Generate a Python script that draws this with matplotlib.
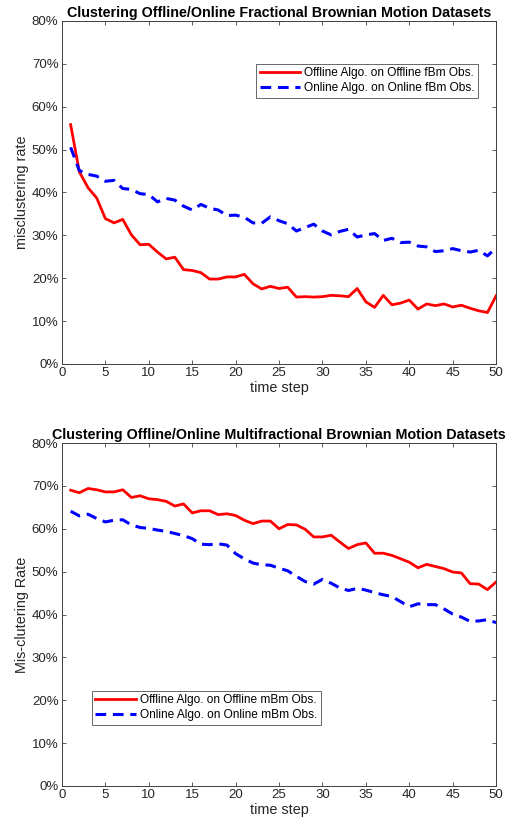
import matplotlib
matplotlib.use("Agg")
import matplotlib.pyplot as plt
from matplotlib.ticker import FuncFormatter

plt.rcParams['font.family'] = ['Liberation Sans', 'DejaVu Sans']

steps = list(range(1, 51))

# fBm datasets (misclustering rate, %)
fbm_offline = [55.8, 44.8, 41.1, 38.7, 33.9, 32.9, 33.7, 30.1, 27.8, 27.9,
               26.1, 24.5, 24.9, 22.0, 21.8, 21.3, 19.8, 19.8, 20.3, 20.3,
               20.9, 18.7, 17.5, 18.1, 17.6, 17.9, 15.6, 15.7, 15.6, 15.7,
               16.0, 15.9, 15.7, 17.6, 14.5, 13.2, 16.0, 13.8, 14.2, 14.9,
               12.8, 14.0, 13.6, 14.0, 13.3, 13.7, 13.0, 12.4, 12.0, 15.9]
fbm_online = [50.5, 45.1, 44.2, 43.8, 42.6, 42.8, 40.9, 40.7, 39.7, 39.5,
              37.8, 38.6, 38.2, 36.8, 35.9, 37.2, 36.3, 35.9, 34.6, 34.7,
              34.2, 32.9, 32.8, 34.3, 33.4, 32.7, 31.0, 31.8, 32.6, 31.0,
              30.1, 30.9, 31.4, 29.6, 30.1, 30.4, 28.8, 29.3, 28.3, 28.4,
              27.5, 27.3, 26.2, 26.4, 26.9, 26.4, 26.1, 26.5, 25.2, 27.1]

# mBm datasets
mbm_offline = [69.0, 68.4, 69.4, 69.1, 68.6, 68.6, 69.1, 67.3, 67.7, 67.0,
               66.8, 66.4, 65.3, 65.8, 63.7, 64.2, 64.2, 63.3, 63.5, 63.1,
               62.0, 61.2, 61.8, 61.8, 60.0, 61.0, 60.9, 59.9, 58.1, 58.1,
               58.5, 56.9, 55.4, 56.3, 56.7, 54.3, 54.3, 53.8, 53.0, 52.2,
               50.9, 51.7, 51.2, 50.7, 49.9, 49.7, 47.2, 47.1, 45.8, 47.6]
mbm_online = [64.1, 63.0, 63.4, 62.4, 61.6, 62.0, 62.1, 60.9, 60.3, 60.1,
              59.7, 59.4, 58.9, 58.4, 57.7, 56.4, 56.3, 56.5, 56.2, 54.2,
              53.0, 52.0, 51.6, 51.5, 50.8, 50.2, 48.9, 47.7, 47.1, 48.2,
              47.3, 46.2, 45.6, 46.1, 45.7, 45.1, 44.6, 44.2, 43.0, 41.8,
              42.5, 42.3, 42.3, 41.3, 40.1, 39.4, 38.4, 38.5, 38.8, 38.1]

y_ticks = [0, 10, 20, 30, 40, 50, 60, 70, 80]
x_ticks = [0, 5, 10, 15, 20, 25, 30, 35, 40, 45, 50]

axis_gray = '#404040'

fig = plt.figure(figsize=(5.12, 8.32), dpi=100)
ax1 = fig.add_axes([0.121, 0.5625, 0.848, 0.4125])
ax2 = fig.add_axes([0.121, 0.0553, 0.848, 0.4122])


def style_axes(ax):
    ax.set_xlim(0, 50)
    ax.set_ylim(0, 80)
    ax.set_xticks(x_ticks)
    ax.set_yticks(y_ticks)
    ax.yaxis.set_major_formatter(FuncFormatter(lambda v, p: '%d%%' % v))
    ax.tick_params(direction='in', top=True, right=True, length=3,
                   width=0.6, colors=axis_gray, labelsize=9.5, labelcolor='#262626',
                   pad=2.5)
    for s in ax.spines.values():
        s.set_color(axis_gray)
        s.set_linewidth(0.7)
    ax.set_xlabel('time step', fontsize=10.4, color='#262626', labelpad=1)


ax1.plot(steps, fbm_offline, color='red', lw=2, label='Offline Algo. on Offline fBm Obs.')
ax1.plot(steps, fbm_online, color='blue', lw=2.2, dashes=(3.5, 2.2),
         label='Online Algo. on Online fBm Obs.')
style_axes(ax1)
ax1.set_ylabel('misclustering rate', fontsize=10.4, color='#262626', labelpad=2)
ax1.set_title('Clustering Offline/Online Fractional Brownian Motion Datasets',
              fontsize=10.3, fontweight='bold', pad=3)
leg1 = ax1.legend(loc='upper right', bbox_to_anchor=(0.958, 0.875), fontsize=8.6,
                  fancybox=False, edgecolor=axis_gray, handlelength=3.4,
                  handletextpad=0.3, borderpad=0.3, labelspacing=0.25, borderaxespad=0)
leg1.get_frame().set_linewidth(0.7)

ax2.plot(steps, mbm_offline, color='red', lw=2, label='Offline Algo. on Offline mBm Obs.')
ax2.plot(steps, mbm_online, color='blue', lw=2.2, dashes=(3.5, 2.2),
         label='Online Algo. on Online mBm Obs.')
style_axes(ax2)
ax2.set_ylabel('Mis-clutering Rate', fontsize=10.4, color='#262626', labelpad=2)
ax2.set_title('Clustering Offline/Online Multifractional Brownian Motion Datasets',
              fontsize=10.3, fontweight='bold', pad=3)
leg2 = ax2.legend(loc='lower left', bbox_to_anchor=(0.069, 0.178), fontsize=8.6,
                  fancybox=False, edgecolor=axis_gray, handlelength=3.4,
                  handletextpad=0.3, borderpad=0.3, labelspacing=0.25, borderaxespad=0)
leg2.get_frame().set_linewidth(0.7)

fig.savefig('out.png', dpi=100)
